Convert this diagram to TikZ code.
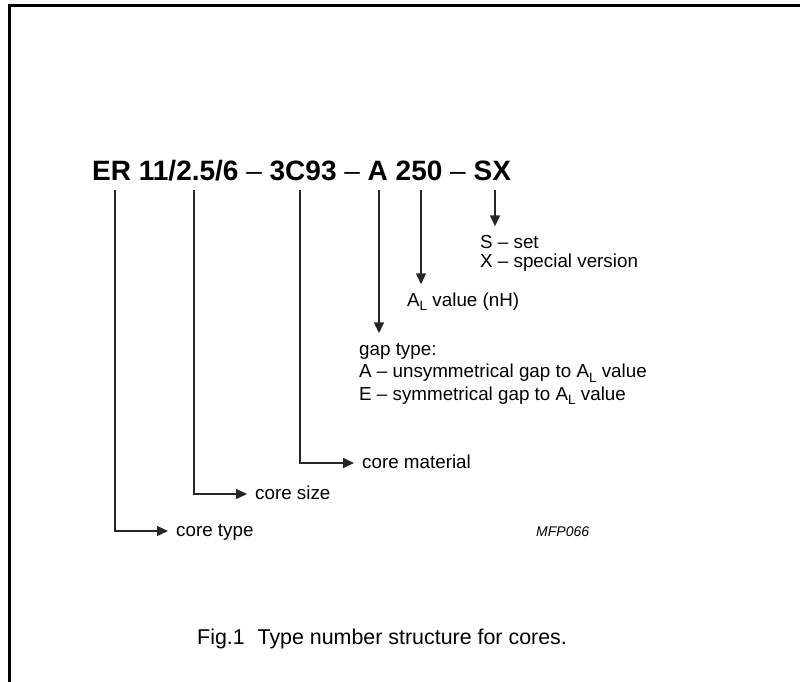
\documentclass[tikz,border=0pt]{standalone}
\usepackage{fontspec}
\setmainfont{Liberation Sans}
\usetikzlibrary{arrows.meta}

\newcommand{\AsubL}{A\raisebox{-0.5ex}{\fontsize{13.5}{14}\selectfont L}}

\begin{document}
\begin{tikzpicture}
  [x=1pt, y=-1pt,
    every node/.style={inner sep=0pt, anchor=base west},
    leader/.style={line width=1.4pt, draw=black!85},
    pointer/.style={leader, -{Triangle[length=11pt,width=10pt]}},
    sidelabel/.style={font=\fontsize{18.8}{22}\selectfont, text height=10pt,
      text depth=0pt, inner xsep=8pt},
    droplabel/.style={font=\fontsize{18.8}{22}\selectfont, text height=13.5pt,
      inner ysep=8pt}]

  \useasboundingbox (0,0) rectangle (800,682);
  \draw[line width=3pt] (9,682) -- (9,6) -- (800,6); % frame

  \node (code) at (92,180) {\fontsize{28}{32}\selectfont
    \textbf{ER 11/2.5/6} -- \textbf{3C93} -- \textbf{A 250} -- \textbf{SX}};

  \coordinate (ptER)  at (115,190);
  \coordinate (ptdim) at (194,190);
  \coordinate (ptmat) at (300,190);
  \coordinate (ptgap) at (379,190);
  \coordinate (ptAL)  at (421,190);
  \coordinate (ptSX)  at (495,190);

  \node[droplabel] (setver) at (480,248) {\vtop{\baselineskip=19pt
      \hbox{S -- set}
      \hbox{X -- special version}}};
  \node[droplabel] (ALval) at (407,306) {\AsubL{} value (nH)};
  \node[droplabel] (gaptype) at (359,355) {\vtop{\baselineskip=22.5pt
      \hbox{gap type:}
      \hbox{A -- unsymmetrical gap to \AsubL{} value}
      \hbox{E -- symmetrical gap to \AsubL{} value}}};

  \node[sidelabel] (material) at (354,468) {core material};
  \node[sidelabel] (coresize) at (247,499) {core size};
  \node[sidelabel] (coretype) at (168,536) {core type};

  \node (mfp) at (536,536) {\fontsize{14}{16}\selectfont\itshape MFP066};
  \node (caption) at (197,644) {\fontsize{21.4}{24}\selectfont
    Fig.1\hspace{0.6em}Type number structure for cores.};

  \draw[pointer] (ptSX) -- (ptSX |- setver.north);
  \draw[pointer] (ptAL) -- (ptAL |- ALval.north);
  \draw[pointer] (ptgap) -- (ptgap |- gaptype.north);
  \draw[pointer] (ptmat) |- (material.west);
  \draw[pointer] (ptdim) |- (coresize.west);
  \draw[pointer] (ptER) |- (coretype.west);

\end{tikzpicture}
\end{document}
